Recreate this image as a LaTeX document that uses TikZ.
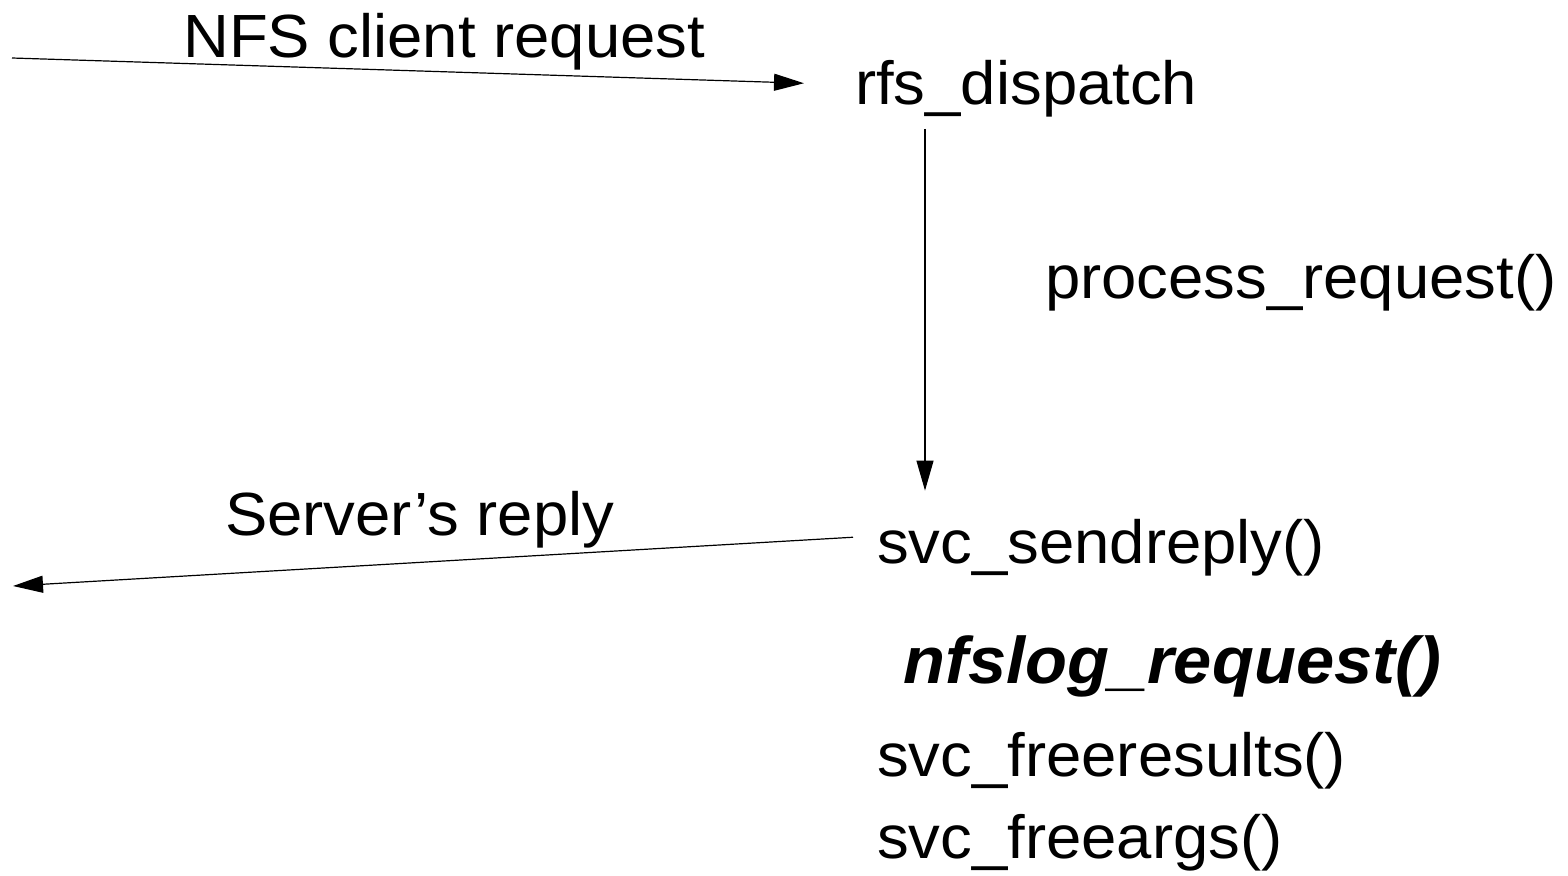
\documentclass[tikz,border=0pt]{standalone}
\usepackage{fontspec}
\setmainfont[FakeStretch=1.04]{Liberation Sans}
\usetikzlibrary{arrows.meta}
\begin{document}
\begin{tikzpicture}[x=1pt,y=-1pt,
      lbl/.style={anchor=base west,inner sep=0pt,font=\fontsize{61}{74}\selectfont},
      flow/.style={line width=1.2pt,-{Triangle[length=30pt,width=17pt]}}]
      \useasboundingbox (0,0) rectangle (1568,875);
      \node [lbl] (client) at (183,57) {NFS client request};
      \node [lbl] (rfs) at (855,104) {rfs\_dispatch};
      \node [lbl] (process) at (1045,298) {process\_request()};
      \node [lbl] (server) at (225,535) {Server’s reply};
      \node [lbl] (send) at (877,563) {svc\_sendreply()};
      \node [lbl,font=\fontsize{66}{80}\selectfont\bfseries\itshape] (nfslog) at (903,683) {nfslog\_request()};
      \node [lbl] (results) at (877,776) {svc\_freeresults()};
      \node [lbl] (freeargs) at (877,858) {svc\_freeargs()};
      \coordinate (wirein) at (12,58);
      \coordinate (wireout) at (13,586);
      \draw [flow] (wirein)--([xshift=-51pt,yshift=5pt]rfs.west);
      \draw [flow] ([xshift=70pt,yshift=-12pt]rfs.south west)--([xshift=48pt,yshift=28pt]send.north west);
      \draw [flow] ([xshift=-24pt,yshift=10pt]send.west)--(wireout);
   \end{tikzpicture}
\end{document}
